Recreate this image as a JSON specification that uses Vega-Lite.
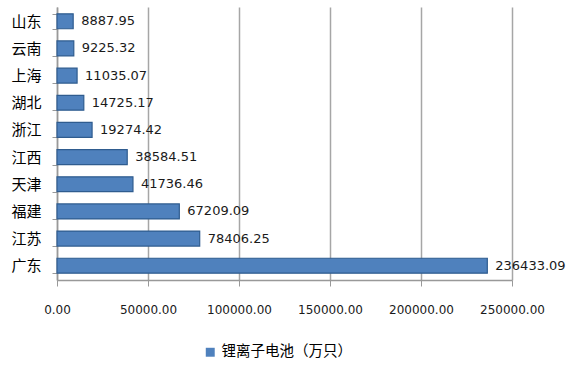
{
  "$schema": "https://vega.github.io/schema/vega-lite/v6.json",
  "width": 455,
  "height": 273,
  "autosize": "none",
  "padding": {"left": 57, "top": 7, "right": 60, "bottom": 85},
  "background": "white",
  "config": {"view": {"stroke": null}, "font": "DejaVu Sans"},
  "data": {"values": [
    {"region": "山东", "value": 8887.95, "series": "锂离子电池（万只）"},
    {"region": "云南", "value": 9225.32, "series": "锂离子电池（万只）"},
    {"region": "上海", "value": 11035.07, "series": "锂离子电池（万只）"},
    {"region": "湖北", "value": 14725.17, "series": "锂离子电池（万只）"},
    {"region": "浙江", "value": 19274.42, "series": "锂离子电池（万只）"},
    {"region": "江西", "value": 38584.51, "series": "锂离子电池（万只）"},
    {"region": "天津", "value": 41736.46, "series": "锂离子电池（万只）"},
    {"region": "福建", "value": 67209.09, "series": "锂离子电池（万只）"},
    {"region": "江苏", "value": 78406.25, "series": "锂离子电池（万只）"},
    {"region": "广东", "value": 236433.09, "series": "锂离子电池（万只）"}
  ]},
  "encoding": {
    "y": {
      "field": "region", "type": "nominal", "sort": null,
      "scale": {"paddingInner": 0.45, "paddingOuter": 0.25},
      "axis": {"title": null, "domainColor": "#999999", "domainWidth": 1.5, "tickColor": "#999999", "tickSize": 5, "tickBand": "extent", "labelFontSize": 15, "labelColor": "#000000", "labelPadding": 11, "labelFont": "Noto Sans CJK SC"}
    },
    "x": {
      "field": "value", "type": "quantitative",
      "scale": {"domain": [0, 250000], "nice": false},
      "axis": {"title": null, "values": [0, 50000, 100000, 150000, 200000, 250000], "format": ".2f", "grid": true, "gridColor": "#A6A6A6", "gridWidth": 1.5, "domainColor": "#999999", "domainWidth": 1.5, "tickColor": "#999999", "tickSize": 6, "labelPadding": 18, "labelFontSize": 12, "labelColor": "#1a1a1a", "labelFont": "DejaVu Sans", "labelOverlap": false, "labelFlush": false}
    }
  },
  "layer": [
    {
      "mark": {"type": "bar", "color": "#4F81BD", "stroke": "#2F5C8F", "strokeWidth": 1.2},
      "encoding": {
        "color": {"field": "series", "type": "nominal", "scale": {"range": ["#4F81BD"]},
          "legend": {"title": null, "orient": "none", "legendX": 146, "legendY": 338, "symbolType": "square", "symbolSize": 80, "symbolStrokeWidth": 0, "labelFontSize": 14.5, "labelColor": "#000000", "labelFont": "Noto Sans CJK SC", "labelLimit": 300}}
      }
    },
    {
      "mark": {"type": "text", "align": "left", "dx": 8, "fontSize": 13, "color": "#1a1a1a", "font": "DejaVu Sans"},
      "encoding": {"text": {"field": "value", "type": "quantitative", "format": ".2f"}}
    }
  ]
}
